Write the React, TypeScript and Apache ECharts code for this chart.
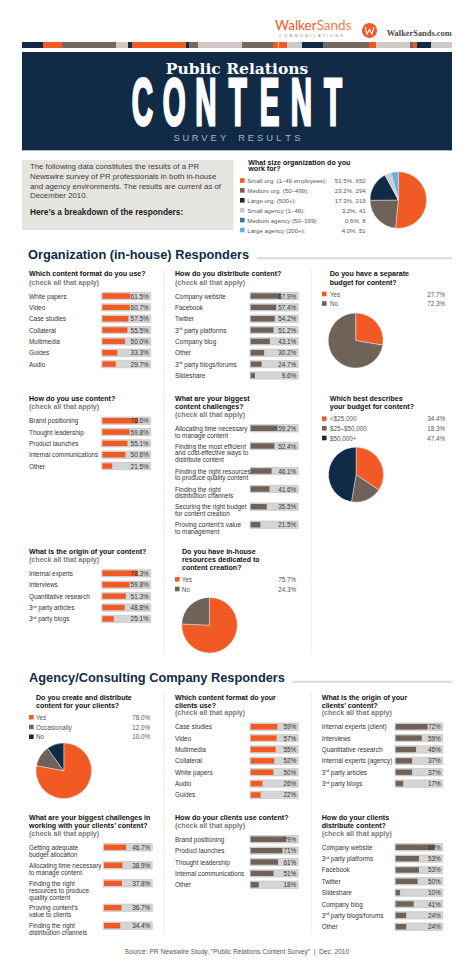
import React, { useEffect, useRef } from 'react';
import * as echarts from 'echarts';

// ---------------- DATA ----------------
const sizeCats = ['Small org. (1–49 employees):', 'Medium org. (50–499):', 'Large org. (500+):', 'Small agency (1–49):', 'Medium agency (50–199):', 'Large agency (200+):'];
const sizeVals = [51.5, 23.2, 17.3, 3.2, 0.6, 4.0];
const sizeCounts = [652, 294, 219, 41, 8, 51];

const orgFormatCats = ['White papers', 'Video', 'Case studies', 'Collateral', 'Multimedia', 'Guides', 'Audio'];
const orgFormatVals = [61.5, 60.7, 57.5, 55.5, 50.0, 33.3, 29.7];

const orgDistCats = ['Company website', 'Facebook', 'Twitter', '3rd party platforms', 'Company blog', 'Other', '3rd party blogs/forums', 'Slideshare'];
const orgDistVals = [67.9, 57.4, 54.2, 51.2, 43.1, 30.2, 24.7, 9.6];

const budgetCats = ['Yes', 'No'];
const budgetVals = [27.7, 72.3];

const orgUseCats = ['Brand positioning', 'Thought leadership', 'Product launches', 'Internal communications', 'Other'];
const orgUseVals = [78.6, 59.8, 55.1, 50.6, 21.5];

const orgChallengeCats = [
  'Allocating time necessary\nto manage content',
  'Finding the most efficient\nand cost-effective ways to\ndistribute content',
  'Finding the right resources\nto produce quality content',
  'Finding the right\ndistribution channels',
  'Securing the right budget\nfor content creation',
  'Proving content’s value\nto management',
];
const orgChallengeVals = [59.2, 52.4, 46.1, 41.6, 35.5, 21.5];

const budgetSizeCats = ['<$25,000', '$25–$50,000', '$50,000+'];
const budgetSizeVals = [34.4, 18.3, 47.4];

const orgOriginCats = ['Internal experts', 'Interviews', 'Quantitative research', '3rd party articles', '3rd party blogs'];
const orgOriginVals = [78.3, 59.8, 51.3, 48.8, 25.1];

const inhouseCats = ['Yes', 'No'];
const inhouseVals = [75.7, 24.3];

const agCreateCats = ['Yes', 'Occasionally', 'No'];
const agCreateVals = [78.0, 12.0, 10.0];

const agFormatCats = ['Case studies', 'Video', 'Multimedia', 'Collateral', 'White papers', 'Audio', 'Guides'];
const agFormatVals = [59, 57, 55, 52, 50, 26, 22];

const agOriginCats = ['Internal experts (client)', 'Interviews', 'Quantitative research', 'Internal experts (agency)', '3rd party articles', '3rd party blogs'];
const agOriginVals = [72, 59, 46, 37, 37, 17];

const agChallengeCats = [
  'Getting adequate\nbudget allocation',
  'Allocating time necessary\nto manage content',
  'Finding the right\nresources to produce\nquality content',
  'Proving content’s\nvalue to clients',
  'Finding the right\ndistribution channels',
];
const agChallengeVals = [46.7, 38.9, 37.8, 36.7, 34.4];

const agUseCats = ['Brand positioning', 'Product launches', 'Thought leadership', 'Internal communications', 'Other'];
const agUseVals = [79, 71, 61, 51, 18];

const agDistCats = ['Company website', '3rd party platforms', 'Facebook', 'Twitter', 'Slideshare', 'Company blog', '3rd party blogs/forums', 'Other'];
const agDistVals = [89, 53, 53, 50, 10, 41, 24, 24];

// ---------------- STYLE / LAYOUT ----------------
const FONT = '"Liberation Sans", Arial, Helvetica, sans-serif';
const ORANGE = '#f15a24';
const BROWN = '#6e6259';
const NAVY = '#112b47';
const TXT = '#333333';

const rowsFrom = (y0: number, step: number, n: number) => Array.from({ length: n }, (_, i) => y0 + i * step);

const barCharts = [
  { cats: orgFormatCats, vals: orgFormatVals, dec: 1, color: ORANGE, labelX: 29, trackX: 101.7, trackW: 49, max: 107, rows: rowsFrom(296, 11.35, 7) },
  { cats: orgDistCats, vals: orgDistVals, dec: 1, color: BROWN, labelX: 175, trackX: 250, trackW: 48.3, max: 107, rows: rowsFrom(296, 11.35, 8) },
  { cats: orgUseCats, vals: orgUseVals, dec: 1, color: ORANGE, labelX: 29, trackX: 101.7, trackW: 49, max: 106, rows: rowsFrom(420.7, 11.33, 5) },
  { cats: orgChallengeCats, vals: orgChallengeVals, dec: 1, color: BROWN, labelX: 175, trackX: 250, trackW: 48.3, max: 105, rows: [428.3, 446, 471, 489, 506.7, 524.7] },
  { cats: orgOriginCats, vals: orgOriginVals, dec: 1, color: ORANGE, labelX: 29, trackX: 101.7, trackW: 49, max: 106, rows: rowsFrom(573.3, 11.4, 5) },
  { cats: agFormatCats, vals: agFormatVals, dec: 0, color: ORANGE, labelX: 175, trackX: 250, trackW: 48.3, max: 105, rows: rowsFrom(726.7, 11.38, 7) },
  { cats: agOriginCats, vals: agOriginVals, dec: 0, color: BROWN, labelX: 321.7, trackX: 395, trackW: 47.7, max: 106, rows: rowsFrom(726.7, 11.38, 6) },
  { cats: agChallengeCats, vals: agChallengeVals, dec: 1, color: ORANGE, labelX: 29, trackX: 103.3, trackW: 49, max: 102, rows: [847.3, 865.3, 883.3, 907.7, 925.7] },
  { cats: agUseCats, vals: agUseVals, dec: 0, color: BROWN, labelX: 175, trackX: 250, trackW: 48.3, max: 106, rows: rowsFrom(839.3, 11.35, 5) },
  { cats: agDistCats, vals: agDistVals, dec: 0, color: BROWN, labelX: 321.7, trackX: 395, trackW: 47.7, max: 107, rows: rowsFrom(847.3, 11.34, 8) },
];

const pies = [
  { cats: sizeCats, vals: sizeVals, valText: sizeVals.map((v, i) => `${v.toFixed(1)}%, ${sizeCounts[i]}`), colors: [ORANGE, BROWN, NAVY, '#c9c9c9', '#27808e', '#5fb4e5'], cx: 398.3, cy: 200, r: 28.3, sqX: 240, txX: 247.3, valX: 365.7, rows: [180.5, 190.4, 200.3, 210.2, 220.1, 230], fs: 6.1 },
  { cats: budgetCats, vals: budgetVals, valText: null, colors: [ORANGE, BROWN], cx: 355.7, cy: 340.5, r: 27.5, sqX: 322, txX: 330, valX: 445, rows: [294, 303.5], fs: 6.3 },
  { cats: budgetSizeCats, vals: budgetSizeVals, valText: null, colors: [ORANGE, BROWN, NAVY], cx: 356, cy: 474.7, r: 27.5, sqX: 322, txX: 330, valX: 445, rows: [418.7, 428.3, 438], fs: 6.3 },
  { cats: inhouseCats, vals: inhouseVals, valText: null, colors: [ORANGE, BROWN], cx: 209.5, cy: 625.2, r: 27.8, sqX: 175, txX: 181.7, valX: 296, rows: [579.3, 589], fs: 6.3 },
  { cats: agCreateCats, vals: agCreateVals, valText: null, colors: [ORANGE, BROWN, NAVY], cx: 63.8, cy: 770.8, r: 27.8, sqX: 29, txX: 36, valX: 150, rows: [717.3, 727, 736.7], fs: 6.3 },
];

const CHECK = '(check all that apply)';
const titles = [
  { x: 29, y: 274.3, lh: 8.4, lines: ['Which content format do you use?', CHECK] },
  { x: 175, y: 274.3, lh: 8.4, lines: ['How do you distribute content?', CHECK] },
  { x: 329.7, y: 274.3, lh: 8.4, lines: ['Do you have a separate', 'budget for content?'] },
  { x: 29, y: 399.3, lh: 8, lines: ['How do you use content?', CHECK] },
  { x: 175, y: 399.3, lh: 7.9, lines: ['What are your biggest', 'content challenges?', CHECK] },
  { x: 329.7, y: 399.3, lh: 8, lines: ['Which best describes', 'your budget for content?'] },
  { x: 29, y: 551.7, lh: 8.3, lines: ['What is the origin of your content?', CHECK] },
  { x: 182, y: 552.3, lh: 7.7, lines: ['Do you have in-house', 'resources dedicated to', 'content creation?'] },
  { x: 36, y: 697.7, lh: 8, lines: ['Do you create and distribute', 'content for your clients?'] },
  { x: 175, y: 697.7, lh: 7.8, lines: ['Which content format do your', 'clients use?', CHECK] },
  { x: 321.7, y: 697.7, lh: 7.8, lines: ['What is the origin of your', 'clients’ content?', CHECK] },
  { x: 29, y: 818.3, lh: 7.8, lines: ['What are your biggest challenges in', 'working with your clients’ content?', CHECK] },
  { x: 175, y: 818.3, lh: 7.8, lines: ['How do your clients use content?', CHECK] },
  { x: 321.7, y: 818.3, lh: 7.8, lines: ['How do your clients', 'distribute content?', CHECK] },
];

const STRIPE = [
  [22, 43, NAVY], [43, 62, ORANGE], [62, 116, '#756a62'], [116, 128, '#cfcac6'], [128, 132, NAVY],
  [132, 186, ORANGE], [186, 189, NAVY], [189, 198, '#756a62'], [198, 242, '#cfcac6'], [242, 273, '#756a62'],
  [273, 278, ORANGE], [278, 279, '#cfcac6'], [279, 287, ORANGE], [287, 302, '#cfcac6'], [302, 323, NAVY],
  [323, 369, '#756a62'], [369, 376, ORANGE], [376, 410, '#cfcac6'], [410, 413, '#756a62'], [413, 417, ORANGE],
  [417, 431, NAVY], [431, 452, '#cfcac6'],
];

function T(x: number, y: number, text: string, o: any = {}) {
  const align = o.align ?? 'left';
  return {
    type: 'text', x, y, silent: true, z: 10,
    scaleX: o.scaleX ?? 1,
    style: {
      text, fill: o.fill ?? TXT, fontSize: o.size ?? 6.4, fontFamily: o.family ?? FONT,
      fontWeight: o.weight ?? 'normal', textAlign: align, align, textVerticalAlign: 'middle', verticalAlign: 'middle',
      stroke: o.stroke, lineWidth: o.lineWidth ?? 0,
    },
  };
}

function buildOption() {
  const grid: any[] = [];
  const xAxis: any[] = [];
  const yAxis: any[] = [];
  const series: any[] = [];
  const g: any[] = [];

  // ---------- header ----------
  g.push({ type: 'rect', shape: { x: 22, y: 52, width: 430, height: 98 }, style: { fill: NAVY }, z: 1 });
  g.push({ type: 'line', shape: { x1: 22, y1: 150.5, x2: 452, y2: 150.5 }, style: { stroke: '#9fb4c8', lineWidth: 1 }, z: 1 });
  STRIPE.forEach(([a, b, c]) => g.push({ type: 'rect', shape: { x: a as number, y: 42, width: (b as number) - (a as number), height: 6 }, style: { fill: c as string }, z: 1 }));
  g.push({
    type: 'text', x: 275, y: 24.8, z: 10, silent: true,
    style: { text: '{a|Walker}{b|Sands}', textVerticalAlign: 'middle', verticalAlign: 'middle', rich: { a: { fill: ORANGE, fontSize: 13.5, fontFamily: 'Lato, "Open Sans", sans-serif' }, b: { fill: '#f47a48', fontSize: 13.5, fontFamily: 'Lato, "Open Sans", sans-serif' } } },
  });
  g.push(T(279, 35.2, 'C  O  M  M  U  N  I  C  A  T  I  O  N  S', { size: 3.9, fill: '#8a8a8a' }));
  g.push({ type: 'circle', shape: { cx: 369.5, cy: 30.5, r: 7.5 }, style: { fill: ORANGE }, z: 5 });
  g.push({ type: 'polyline', shape: { points: [[365, 27], [367, 34], [369.5, 29.5], [372, 34], [374, 27]] }, style: { stroke: '#fff', fill: 'none', lineWidth: 1.1 }, z: 6 });
  g.push(T(386.7, 33.7, 'WalkerSands.com', { size: 8.4, family: '"Liberation Serif", serif', weight: 'bold', fill: '#4a4a4a' }));

  g.push(T(237, 68, 'Public Relations', { size: 15.5, family: '"DejaVu Serif", serif', weight: 'bold', fill: '#ffffff', align: 'center' }));
  'CONTENT'.split('').forEach((ch, i) =>
    g.push(T(142.3 + i * 31.8, 102, ch, { size: 67, weight: 'bold', fill: '#ffffff', align: 'center', scaleX: 0.44, stroke: '#ffffff', lineWidth: 3 })));
  'SURVEY RESULTS'.split('').forEach((ch, i) => { if (ch !== ' ') g.push(T(176.5 + i * 9.3, 138.4, ch, { size: 9.3, fill: '#a8b6c5', align: 'center' })); });

  // ---------- intro ----------
  g.push({ type: 'rect', shape: { x: 22, y: 160, width: 211.5, height: 70 }, style: { fill: '#e6e4e1' }, z: 1 });
  ['The following data constitutes the results of a PR', 'Newswire survey of PR professionals in both in-house', 'and agency environments. The results are current as of', 'December 2010.']
    .forEach((l, i) => g.push(T(30, 166.8 + i * 9.65, l, { size: 7.8, fill: '#3a3a3a' })));
  g.push(T(30, 211.8, 'Here’s a breakdown of the responders:', { size: 8.3, weight: 'bold', fill: '#1b1b1b' }));
  g.push(T(248.3, 162.5, 'What size organization do you', { size: 7.1, weight: 'bold', fill: '#111' }));
  g.push(T(248.3, 169.3, 'work for?', { size: 7.1, weight: 'bold', fill: '#111' }));

  // ---------- section headings ----------
  g.push(T(28, 254.6, 'Organization (in-house) Responders', { size: 12.8, weight: 'bold', fill: NAVY }));
  g.push({ type: 'line', shape: { x1: 257, y1: 258.3, x2: 452, y2: 258.3 }, style: { stroke: '#d9d9d9', lineWidth: 2 }, z: 1 });
  g.push(T(29, 677.8, 'Agency/Consulting Company Responders', { size: 12.8, weight: 'bold', fill: NAVY }));
  g.push({ type: 'line', shape: { x1: 292, y1: 681.7, x2: 452, y2: 681.7 }, style: { stroke: '#d9d9d9', lineWidth: 2 }, z: 1 });

  // column dividers
  [[164, 270, 655], [311, 270, 655], [164, 692, 935], [311, 692, 935]].forEach(([x, a, b]) =>
    g.push({ type: 'line', shape: { x1: x, y1: a, x2: x, y2: b }, style: { stroke: '#ececec', lineWidth: 1 }, z: 1 }));

  // titles
  titles.forEach((t) => t.lines.forEach((l, i) =>
    g.push(T(t.x, t.y + i * t.lh, l, { size: 7.1, weight: 'bold', fill: l === CHECK ? '#7b7b7b' : '#111' }))));

  // footer
  g.push(T(237, 951.8, 'Source: PR Newswire Study, "Public Relations Content Survey"  |  Dec. 2010', { size: 6.6, fill: '#555', align: 'center' }));

  // ---------- bar charts (one small grid per row) ----------
  const TRACK_H = 7.4;
  const BAR_W = 5.4;
  const labelBase = { fontSize: 6.4, fontFamily: FONT, color: TXT };
  const fmtLabel = (s: string) => {
    const n = s.split('\n').length;
    return '\n'.repeat(n - 1) + s.replace(/^3rd/, '3{s|rd}');
  };
  barCharts.forEach((b) => {
    b.cats.forEach((cat, i) => {
      const gi = grid.length;
      grid.push({ left: b.trackX, top: b.rows[i] - TRACK_H / 2, width: b.trackW, height: TRACK_H, show: true, backgroundColor: '#d5d5d5', borderColor: '#bdbdbd', borderWidth: 0.6 });
      xAxis.push({ gridIndex: gi, type: 'value', min: -1.5, max: b.max, show: false });
      const yi = yAxis.length;
      yAxis.push({
        gridIndex: gi, type: 'category', data: [cat], position: 'left', z: 8,
        axisLine: { show: false }, axisTick: { show: false }, splitLine: { show: false },
        axisLabel: { ...labelBase, align: 'left', margin: b.trackX - b.labelX, lineHeight: 6.9, formatter: fmtLabel, rich: { s: { fontSize: 4.3, fontFamily: FONT, color: TXT, verticalAlign: 'top', lineHeight: 5 } } },
      });
      yAxis.push({
        gridIndex: gi, type: 'category', data: [b.vals[i].toFixed(b.dec) + '%'], position: 'right', z: 8,
        axisLine: { show: false }, axisTick: { show: false }, splitLine: { show: false },
        axisLabel: { ...labelBase, inside: true, margin: 2 },
      });
      series.push({ type: 'bar', xAxisIndex: gi, yAxisIndex: yi, z: 2, data: [b.vals[i]], barWidth: BAR_W, itemStyle: { color: b.color }, silent: true, label: { show: false } });
    });
  });

  // ---------- pies + legends ----------
  pies.forEach((p) => {
    series.push({
      type: 'pie', center: [p.cx, p.cy], radius: p.r, startAngle: 90, clockwise: true, silent: true,
      label: { show: false }, labelLine: { show: false },
      itemStyle: { borderColor: '#ffffff', borderWidth: 0.4 },
      data: p.cats.map((c, i) => ({ name: c, value: p.vals[i], itemStyle: { color: p.colors[i] } })),
    });
    p.cats.forEach((c, i) => {
      const y = p.rows[i];
      g.push({ type: 'rect', shape: { x: p.sqX, y: y - 2.3, width: 4.6, height: 4.6 }, style: { fill: p.colors[i] }, z: 5 });
      g.push(T(p.txX, y, c, { size: p.fs, fill: '#555' }));
      g.push(T(p.valX, y, p.valText ? p.valText[i] : `${p.vals[i].toFixed(1)}%`, { size: p.fs, fill: '#555', align: 'right' }));
    });
  });

  return { animation: false, backgroundColor: '#ffffff', grid, xAxis, yAxis, series, graphic: { elements: g } };
}

export default function App() {
  const ref = useRef<HTMLDivElement>(null);
  useEffect(() => {
    const chart = echarts.init(ref.current!, null, { renderer: 'svg', width: 474, height: 976 });
    chart.setOption(buildOption() as any);
    return () => chart.dispose();
  }, []);
  return <div ref={ref} style={{ position: 'absolute', left: 0, top: 0, width: 474, height: 976, background: '#fff' }} />;
}
